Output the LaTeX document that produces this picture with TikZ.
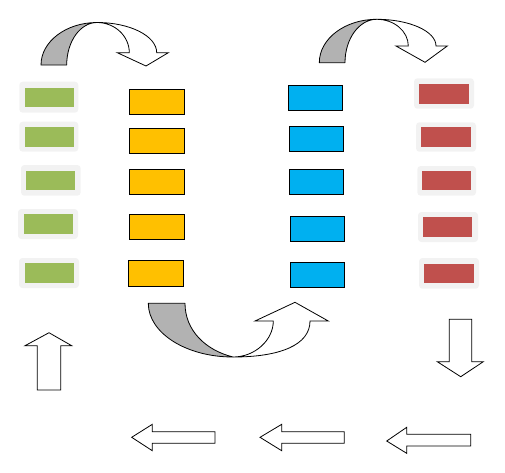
\documentclass[tikz,border=0pt]{standalone}
\definecolor{grn}{HTML}{9BBB59}
\definecolor{redb}{HTML}{C0504D}
\definecolor{yel}{HTML}{FFC000}
\definecolor{blu}{HTML}{00B0F0}
\definecolor{glowc}{HTML}{F2F2F2}
\definecolor{band}{HTML}{B2B2B2}
\begin{document}
\begin{tikzpicture}[x=0.75pt,y=-0.75pt,
  glow/.style={fill=glowc, rounded corners=2.5pt},
  gbox/.style={fill=grn},
  rbox/.style={fill=redb},
  ybox/.style={fill=yel, draw=black, line width=0.9pt},
  bbox/.style={fill=blu, draw=black, line width=0.9pt},
  bandback/.style={fill=band, draw=black, line width=0.6pt, line join=round},
  bandfront/.style={fill=white, draw=black, line width=0.6pt, line join=miter},
  blockarrow/.style={fill=white, draw=black, line width=0.6pt, line join=miter}]
\useasboundingbox (0,0) rectangle (505,472);

% green boxes (left column)
\fill[glow] (19.3,81.7) rectangle (78.3,112.7);
\fill[gbox] (25,87.7) rectangle (74,107);
\fill[glow] (19.3,121.7) rectangle (78.3,151.7);
\fill[gbox] (25,126.7) rectangle (74,146.7);
\fill[glow] (21,165) rectangle (80.7,195.7);
\fill[gbox] (26,171) rectangle (75,190);
\fill[glow] (18,209) rectangle (78,239);
\fill[gbox] (24,214) rectangle (73,234);
\fill[glow] (19,258) rectangle (79,288);
\fill[gbox] (25,263) rectangle (74,283);

% yellow boxes
\draw[ybox] (129.3,89.3) rectangle (184.7,114.3);
\draw[ybox] (129.3,128.3) rectangle (184.7,153.3);
\draw[ybox] (129.3,169.3) rectangle (184.7,194.3);
\draw[ybox] (129.3,214.3) rectangle (184.7,239.3);
\draw[ybox] (128.3,260.3) rectangle (183.7,286.3);

% blue boxes
\draw[bbox] (288.3,85.3) rectangle (342.7,110.3);
\draw[bbox] (289.3,126.3) rectangle (343.3,151.3);
\draw[bbox] (289.3,169.3) rectangle (343.7,194.3);
\draw[bbox] (290.3,216.3) rectangle (344.7,241.3);
\draw[bbox] (290.3,262.3) rectangle (344.7,287.7);

% red boxes (right column)
\fill[glow] (414,78.3) rectangle (474,108.7);
\fill[rbox] (419,84) rectangle (469,104);
\fill[glow] (416,122.3) rectangle (476,151.7);
\fill[rbox] (421,127) rectangle (471,147);
\fill[glow] (417.3,166) rectangle (476,195.7);
\fill[rbox] (422,171) rectangle (471,190);
\fill[glow] (418,212) rectangle (478,242);
\fill[rbox] (423,217) rectangle (472,237);
\fill[glow] (419,258) rectangle (479,288.7);
\fill[rbox] (424,264) rectangle (474,283);

% top-left curved arrow
\filldraw[bandfront] (97,22.5) .. controls (130,22.5) and (156.7,36) .. (156.7,52.7)
  -- (168.3,52.7) -- (146,66) -- (117.3,52.7) -- (129.3,52.7)
  .. controls (129.3,36) and (114.8,22.5) .. (97,22.5) -- cycle;
\filldraw[bandback] (41,65) .. controls (41,41.5) and (66.1,22.5) .. (97,22.5)
  .. controls (80.3,22.5) and (66.7,41.5) .. (66.7,65) -- cycle;

% top-right curved arrow
\filldraw[bandfront] (376.7,19.3) .. controls (409.5,19.3) and (436,31.3) .. (436,46)
  -- (447.3,46) -- (425,62.3) -- (396,46) -- (408.3,46)
  .. controls (408.3,31.3) and (394.2,19.3) .. (376.7,19.3) -- cycle;
\filldraw[bandback] (319.3,62.7) .. controls (319.3,38.7) and (345,19.3) .. (376.7,19.3)
  .. controls (359.2,19.3) and (345,38.7) .. (345,62.7) -- cycle;

% bottom curved arrow
\filldraw[bandfront] (233,357) .. controls (280,357) and (310,345) .. (310,321)
  -- (328.3,321) -- (295,302.3) -- (255,321) -- (273.3,321)
  .. controls (273.3,340) and (255,357) .. (233,357) -- cycle;
\filldraw[bandback] (148.3,303.3) .. controls (148.3,333) and (186.2,357) .. (233,357)
  .. controls (205,350) and (185,330) .. (185,303.3) -- cycle;

% up arrow
\filldraw[blockarrow] (49,332.7) -- (71.7,345.7) -- (60.7,345.7) -- (60.7,390)
  -- (37.3,390) -- (37.3,345.7) -- (25,345.7) -- cycle;
% down arrow
\filldraw[blockarrow] (460.7,376.7) -- (483.3,361.7) -- (471.7,361.7) -- (471.7,319.3)
  -- (449.3,319.3) -- (449.3,361.7) -- (437.3,361.7) -- cycle;
% left arrows
\filldraw[blockarrow] (131.7,437.3) -- (152.3,424.3) -- (152.3,431.7) -- (215,431.7)
  -- (215,443.3) -- (152.3,443.3) -- (152.3,450.7) -- cycle;
\filldraw[blockarrow] (260,437.3) -- (281.7,424.3) -- (281.7,431.7) -- (344.3,431.7)
  -- (344.3,443.3) -- (281.7,443.3) -- (281.7,450.7) -- cycle;
\filldraw[blockarrow] (386.7,441) -- (406.7,427.3) -- (406.7,434.3) -- (470.7,434.3)
  -- (470.7,446) -- (406.7,446) -- (406.7,453.3) -- cycle;
\end{tikzpicture}
\end{document}
